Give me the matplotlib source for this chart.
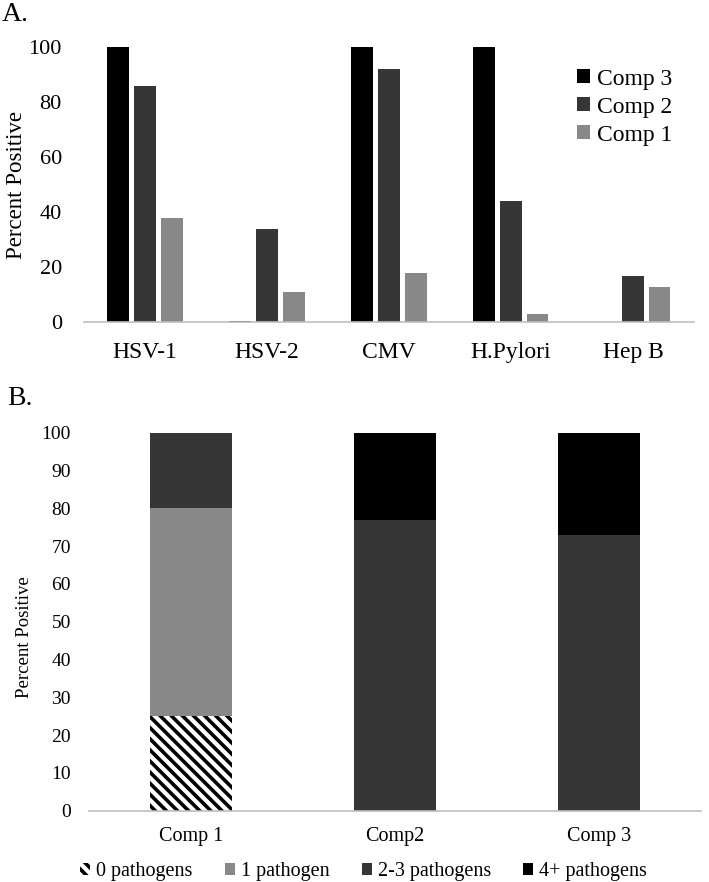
import numpy as np
import matplotlib
matplotlib.use("Agg")
import matplotlib.pyplot as plt
from matplotlib.patches import Patch

plt.rcParams['font.family'] = ['Liberation Serif', 'DejaVu Serif']
plt.rcParams['hatch.linewidth'] = 2.6

# Panel A: percent positive by pathogen and component
pathogens = ['HSV-1', 'HSV-2', 'CMV', 'H.Pylori', 'Hep B']
comp3 = [100, 0.5, 100, 100, 0]
comp2 = [86, 34, 92, 44, 17]
comp1 = [38, 11, 18, 3, 13]

# Panel B: pathogen burden by component (stacked)
components = ['Comp 1', 'Comp2', 'Comp 3']
zero_path = [25, 0, 0]
one_path = [55, 0, 0]
two_three_path = [20, 77, 73]
four_plus_path = [0, 23, 27]

BLACK = '#000000'
DARK = '#363636'
GRAY = '#888888'
SPINE = '#bfbfbf'

fig = plt.figure(figsize=(7.09, 8.82), dpi=100)

# ---- Panel A ----
axA = fig.add_axes([0.1185, 0.6346, 0.8603, 0.3118])
x = np.arange(len(pathogens))
w = 0.175
step = 0.22
axA.bar(x - step, comp3, w, color=BLACK, label='Comp 3')
axA.bar(x, comp2, w, color=DARK, label='Comp 2')
axA.bar(x + step, comp1, w, color=GRAY, label='Comp 1')
axA.set_xlim(-0.5, len(pathogens) - 0.5)
axA.set_ylim(0, 100)
axA.set_yticks(range(0, 101, 20))
axA.set_xticks(x)
axA.set_xticklabels(pathogens, fontsize=17)
axA.tick_params(axis='y', labelsize=16, length=0, pad=16)
axA.tick_params(axis='x', length=0, pad=14)
for s in ['top', 'right', 'left']:
    axA.spines[s].set_visible(False)
axA.spines['bottom'].set_color(SPINE)
axA.spines['bottom'].set_linewidth(1.2)
axA.set_ylabel('Percent Positive', fontsize=16.5)
axA.yaxis.set_label_coords(-0.094, 0.5)
axA.legend(loc='upper right', bbox_to_anchor=(1.0, 1.0), frameon=False,
           fontsize=17, handlelength=0.55, handleheight=0.55,
           handletextpad=0.3, labelspacing=0.3)
fig.text(0.003, 0.984, 'A.', fontsize=20, va='center', ha='left')

# ---- Panel B ----
axB = fig.add_axes([0.1255, 0.0808, 0.863, 0.4286])
xb = np.arange(len(components))
wb = 0.4
bottom = np.zeros(len(components))
axB.bar(xb, zero_path, wb, bottom=bottom, color='white', edgecolor=BLACK,
        linewidth=0, hatch='\\\\\\', label='0 pathogens')
bottom += zero_path
axB.bar(xb, one_path, wb, bottom=bottom, color=GRAY, label='1 pathogen')
bottom += one_path
axB.bar(xb, two_three_path, wb, bottom=bottom, color=DARK, label='2-3 pathogens')
bottom += two_three_path
axB.bar(xb, four_plus_path, wb, bottom=bottom, color=BLACK, label='4+ pathogens')
axB.set_xlim(-0.5, len(components) - 0.5)
axB.set_ylim(0, 100)
axB.set_yticks(range(0, 101, 10))
axB.set_xticks(xb)
axB.set_xticklabels(components, fontsize=14.5)
axB.tick_params(axis='y', labelsize=14, length=0, pad=13)
axB.tick_params(axis='x', length=0, pad=12)
for s in ['top', 'right', 'left']:
    axB.spines[s].set_visible(False)
axB.spines['bottom'].set_color(SPINE)
axB.spines['bottom'].set_linewidth(1.2)
axB.set_ylabel('Percent Positive', fontsize=13.5)
axB.yaxis.set_label_coords(-0.092, 0.46)
handles = [
    Patch(facecolor='white', edgecolor=BLACK, linewidth=0, hatch='\\\\\\', label='0 pathogens'),
    Patch(facecolor=GRAY, label='1 pathogen'),
    Patch(facecolor=DARK, label='2-3 pathogens'),
    Patch(facecolor=BLACK, label='4+ pathogens'),
]
fig.legend(handles=handles, loc='center', bbox_to_anchor=(0.513, 0.012),
           ncol=4, frameon=False, fontsize=14.5, handlelength=0.5,
           handleheight=0.5, handletextpad=0.3, columnspacing=1.6)
fig.text(0.01, 0.548, 'B.', fontsize=20, va='center', ha='left')

fig.savefig('out.png', dpi=100)
